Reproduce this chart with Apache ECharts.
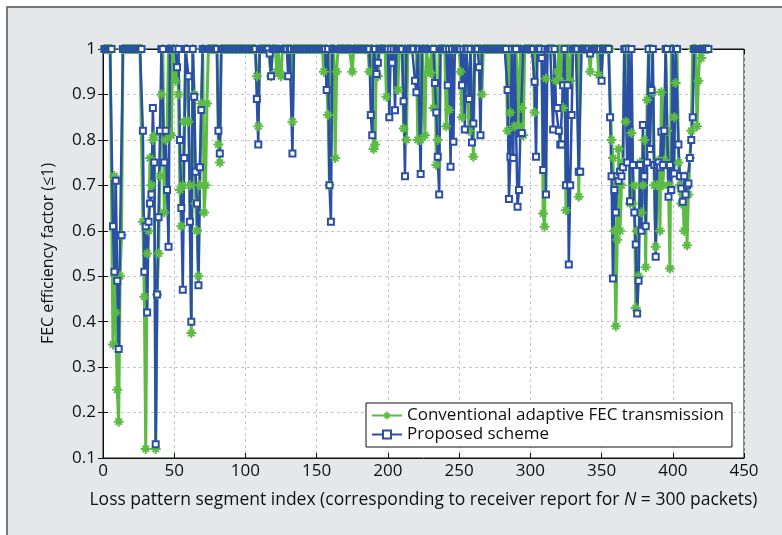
<!DOCTYPE html>
<html>
<head>
<meta charset="utf-8">
<script src="https://cdn.jsdelivr.net/npm/echarts@6/dist/echarts.min.js"></script>
<style>
  html, body { margin: 0; padding: 0; background: #fff; }
  #chart { width: 782px; height: 535px; }
</style>
</head>
<body>
<div id="chart"></div>
<script>
// segments 1..segCount, value 1 unless listed in the dip tables below
const segCount = 425
const dipIdx = [
  7, 8, 9, 10, 11, 12, 13,
  28, 29, 30, 31, 32, 33, 34, 35, 36, 37, 38, 39, 40, 41, 43, 44, 45, 46, 48,
  51, 52, 53, 54, 55, 56, 57, 60, 61, 62, 64, 65, 66, 67, 68, 69, 71, 72, 73,
  81, 82, 108, 109, 117, 118, 122, 124, 125, 130, 133,
  155, 157, 158, 159, 160, 163, 164, 175,
  187, 188, 189, 190, 191, 192, 193, 199, 201, 203, 205, 207,
  211, 212, 213, 219, 220, 221, 223, 226, 229, 230, 232, 233, 234, 235, 236,
  241, 242, 243, 244, 246, 251, 252, 254, 257, 259, 260, 264, 265, 266,
  284, 285, 286, 288, 289, 291, 292, 293, 294, 295, 303, 304,
  308, 309, 310, 311, 316, 318, 319, 320, 321, 322, 323, 325, 326, 327, 328, 329,
  334, 335, 342, 348, 350,
  356, 357, 358, 359, 360, 361, 362, 363, 364, 365, 367, 368, 370, 371, 372, 373,
  374, 375, 376, 377, 378, 379, 380, 381, 382, 384, 385, 386, 387, 388, 389, 390,
  391, 392, 393, 394, 396, 397, 398, 399, 401, 402, 404, 405, 406, 407, 408, 409,
  410, 411, 412, 413, 414, 417, 418, 420
]
// conventional adaptive FEC (green)
const convDip = [
  0.35, 0.72, 0.42, 0.25, 0.18, 0.50, 0.59,
  0.62, 0.455, 0.12, 0.55, 0.60, 0.76, 0.70, 0.80, 0.81, 0.12, 0.46, 0.55, 0.72, 0.90, 0.64, 0.80, 0.82, 1, 0.81,
  0.93, 1, 0.90, 0.69, 0.61, 0.70, 0.84, 0.84, 0.70, 0.375, 0.90, 0.66, 0.60, 0.50, 0.70, 0.88, 0.64, 0.70, 0.88,
  0.79, 0.75, 0.94, 0.83, 1, 0.94, 0.95, 0.95, 0.94, 1, 0.84,
  0.95, 1, 0.855, 0.70, 1, 0.76, 0.95, 0.95,
  0.95, 1, 1, 0.78, 0.79, 1, 0.94, 0.895, 1, 1, 1, 0.91,
  0.825, 1, 0.80, 1, 1, 0.80, 0.80, 0.81, 0.95, 0.947, 0.87, 1, 0.745, 0.80, 1,
  0.83, 1, 0.866, 1, 1, 0.95, 0.85, 1, 0.82, 1, 0.763, 1, 1, 0.90,
  0.82, 1, 0.86, 1, 0.83, 1, 0.83, 1, 0.87, 0.81, 0.86, 1,
  1, 0.638, 0.609, 0.935, 1, 0.93, 0.95, 1, 0.93, 1, 0.87, 0.645, 1, 1, 0.93, 1,
  0.675, 1, 0.95, 0.943, 1,
  1, 0.80, 0.76, 0.60, 0.39, 0.58, 0.78, 0.60, 0.70, 0.75, 0.84, 1, 0.66, 0.815, 0.66, 0.70,
  0.43, 0.60, 0.50, 0.75, 0.64, 0.70, 0.80, 0.52, 0.888, 1, 1, 0.905, 0.70, 0.565, 0.70, 0.755,
  0.60, 0.905, 0.70, 0.755, 0.82, 0.70, 0.517, 1, 0.85, 0.925, 0.75, 0.70, 0.66, 0.68, 0.60, 0.72,
  0.568, 0.68, 0.76, 0.82, 1, 0.83, 0.93, 0.98
]
// proposed scheme (blue)
const propDip = [
  0.61, 0.51, 0.71, 0.49, 0.34, 0.59, 0.59,
  0.82, 0.51, 0.61, 0.42, 0.62, 0.66, 0.68, 0.87, 0.75, 0.13, 0.46, 0.63, 0.82, 1, 0.75, 0.82, 0.69, 0.565, 1,
  1, 0.96, 1, 0.80, 0.65, 0.47, 0.76, 0.94, 0.62, 0.40, 0.895, 0.73, 0.66, 0.48, 0.74, 0.866, 1, 1, 1,
  0.82, 0.77, 0.89, 0.79, 0.99, 0.94, 1, 1, 1, 0.94, 0.77,
  1, 0.91, 1, 0.70, 0.62, 1, 1, 1,
  1, 0.855, 0.81, 1, 1, 0.945, 0.97, 1, 0.85, 0.97, 0.865, 1,
  0.885, 0.72, 1, 0.93, 0.905, 1, 0.725, 1, 1, 1, 1, 0.925, 0.86, 0.763, 0.68,
  1, 0.92, 1, 0.741, 0.796, 1, 0.92, 0.823, 0.89, 0.794, 0.836, 0.96, 0.81, 1,
  0.91, 0.67, 0.763, 0.76, 1, 0.653, 0.69, 0.814, 0.815, 1, 0.928, 0.763,
  0.98, 0.734, 1, 0.68, 0.823, 0.87, 0.87, 0.82, 0.79, 0.79, 0.92, 0.70, 0.92, 0.526, 0.70, 0.855,
  0.73, 0.73, 0.99, 1, 0.93,
  0.85, 0.72, 0.495, 0.69, 0.64, 0.72, 0.71, 0.73, 0.72, 0.74, 1, 0.75, 0.665, 1, 0.745, 0.64,
  0.57, 0.418, 0.49, 0.745, 0.60, 0.833, 0.72, 0.61, 0.75, 0.78, 0.91, 1, 0.745, 0.543, 0.745, 0.75,
  0.74, 0.818, 0.745, 0.82, 1, 0.675, 0.745, 0.69, 0.726, 1, 0.79, 0.72, 0.693, 0.664, 0.72, 0.68,
  0.70, 0.704, 0.76, 0.80, 0.85, 1, 1, 1
]
const xTicks = { min: 0, max: 450, step: 50 }
const yTicks = { min: 0.1, max: 1, step: 0.1 }

let conv = []
let prop = []
for (let i = 1; i <= segCount; i++) {
  conv.push([i, 1])
  prop.push([i, 1])
}
dipIdx.forEach((k, j) => {
  conv[k - 1][1] = convDip[j]
  prop[k - 1][1] = propDip[j]
})

// asterisk marker for the green curve
const asterisk = 'path://M0,4L10,4L10,6L0,6Z M4,0L6,0L6,10L4,10Z ' +
  'M1.1,2.5L2.5,1.1L8.9,7.5L7.5,8.9Z M7.5,1.1L8.9,2.5L2.5,8.9L1.1,7.5Z'

const green = '#5cbb44'
const blue = '#2b4fa6'
const font = 'Open Sans'

let myChart = echarts.init(document.getElementById('chart'))
let option = {
  animation: false,
  backgroundColor: '#e6e7e9',
  textStyle: { fontFamily: font },
  graphic: [
    { type: 'rect', shape: { x: 0, y: 0, width: 782, height: 6 }, style: { fill: '#fff' } },
    { type: 'rect', shape: { x: 0, y: 0, width: 6, height: 535 }, style: { fill: '#fff' } },
    { type: 'line', shape: { x1: 7, y1: 6, x2: 7, y2: 535 }, style: { stroke: '#777', lineWidth: 2 } },
    { type: 'line', shape: { x1: 6, y1: 7, x2: 782, y2: 7 }, style: { stroke: '#777', lineWidth: 2 } }
  ],
  grid: {
    left: 103, right: 38, top: 49, bottom: 77,
    show: true, backgroundColor: '#fff', borderColor: '#111', borderWidth: 1
  },
  legend: {
    orient: 'vertical',
    left: 366, top: 403,
    itemWidth: 30, itemHeight: 10, itemGap: 2,
    padding: [4, 8, 4, 5],
    backgroundColor: '#fff',
    borderColor: '#111', borderWidth: 1,
    textStyle: { fontSize: 17, color: '#111', fontFamily: font },
    data: ['Conventional adaptive FEC transmission', 'Proposed scheme']
  },
  xAxis: [
    {
      type: 'value', min: xTicks.min, max: xTicks.max, interval: xTicks.step,
      name: '{a|Loss pattern segment index (corresponding to receiver report for }{i|N}{a| = 300 packets)}',
      nameLocation: 'middle', nameGap: 33,
      nameTextStyle: {
        rich: {
          a: { fontSize: 17.5, color: '#111', fontFamily: font },
          i: { fontSize: 17.5, color: '#111', fontFamily: font, fontStyle: 'italic' }
        }
      },
      axisLine: { lineStyle: { color: '#111', width: 1 } },
      axisTick: { inside: true, length: 5, lineStyle: { color: '#111' } },
      axisLabel: { fontSize: 17, color: '#111', margin: 5 },
      splitLine: { show: true, lineStyle: { color: '#c4c4c4', type: [3, 3] } }
    },
    {
      type: 'value', position: 'top', min: xTicks.min, max: xTicks.max, interval: xTicks.step,
      axisLine: { lineStyle: { color: '#111' } },
      axisTick: { inside: true, length: 5, lineStyle: { color: '#111' } },
      axisLabel: { show: false },
      splitLine: { show: false }
    }
  ],
  yAxis: [
    {
      type: 'value', min: yTicks.min, max: yTicks.max, interval: yTicks.step,
      name: 'FEC efficiency factor (≤1)',
      nameLocation: 'middle', nameGap: 47,
      nameTextStyle: { fontSize: 16, color: '#111', fontFamily: font },
      axisLine: { lineStyle: { color: '#111', width: 1 } },
      axisTick: { inside: true, length: 5, lineStyle: { color: '#111' } },
      axisLabel: { fontSize: 17, color: '#111', margin: 7 },
      splitLine: { show: true, lineStyle: { color: '#c4c4c4', type: [3, 3] } }
    },
    {
      type: 'value', position: 'right', min: yTicks.min, max: yTicks.max, interval: yTicks.step,
      axisLine: { lineStyle: { color: '#111' } },
      axisTick: { inside: true, length: 5, lineStyle: { color: '#111' } },
      axisLabel: { show: false },
      splitLine: { show: false }
    }
  ],
  series: [
    {
      name: 'Conventional adaptive FEC transmission',
      type: 'line',
      data: conv,
      clip: false,
      symbol: asterisk,
      symbolSize: 10,
      itemStyle: { color: green },
      lineStyle: { color: green, width: 3 }
    },
    {
      name: 'Proposed scheme',
      type: 'line',
      data: prop,
      clip: false,
      symbol: 'emptyRect',
      symbolSize: 6,
      itemStyle: { color: blue, borderWidth: 2 },
      lineStyle: { color: blue, width: 2.5 }
    }
  ]
}
myChart.setOption(option)
</script>
</body>
</html>
